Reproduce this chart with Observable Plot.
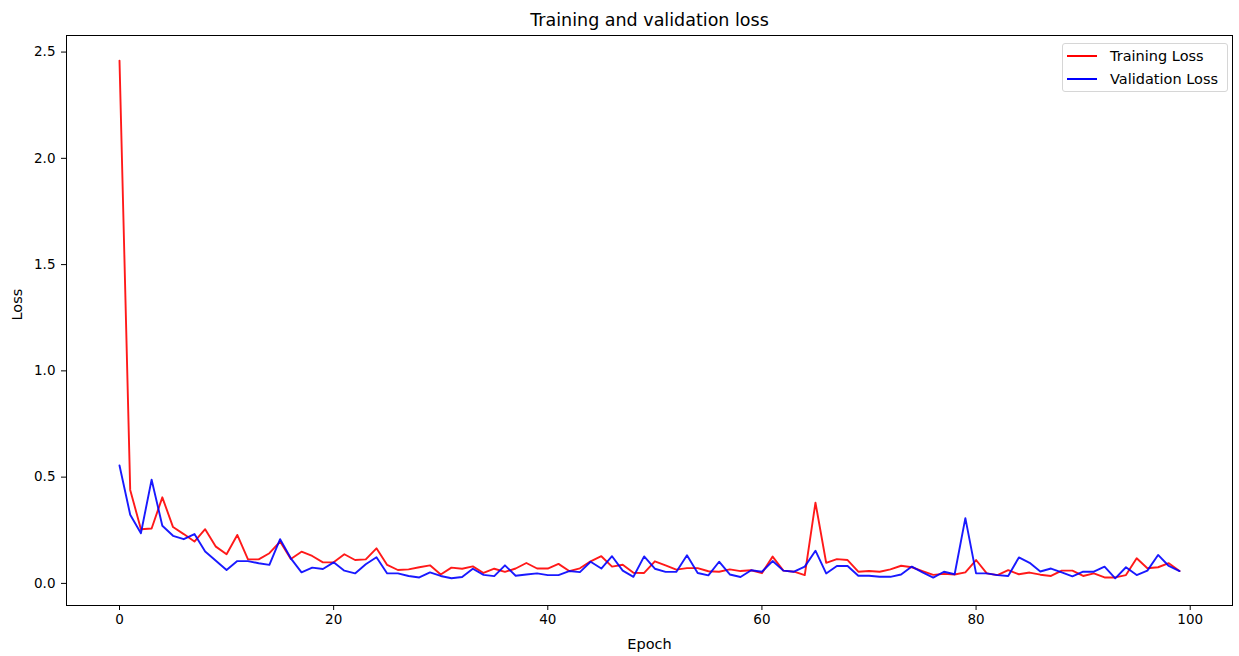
<!DOCTYPE html>
<html>
<head>
<meta charset="utf-8">
<script src="https://cdn.jsdelivr.net/npm/d3@7"></script>
<script src="https://cdn.jsdelivr.net/npm/@observablehq/plot@0.6"></script>
<style>
  body { margin: 0; background: #fff; font-family: "DejaVu Sans", sans-serif; }
  #wrap { position: relative; width: 1239px; height: 656px; }
  #legend { position: absolute; left: 1062px; top: 43px; width: 164px; height: 47px;
    border: 1px solid #d6d6d6; border-radius: 3px; background: rgba(255,255,255,0.8);
    font-family: "DejaVu Sans", sans-serif; font-size: 14.5px; color: #000; }
  .row { position: absolute; left: 4px; height: 20px; display: flex; align-items: center; }
  .sw { width: 30px; height: 2px; margin-right: 13px; }
</style>
</head>
<body>
<div id="wrap"><div id="chart"></div>
  <div id="legend">
    <div class="row" style="top:2px"><div class="sw" style="background:#ff0000"></div><span>Training Loss</span></div>
    <div class="row" style="top:25px"><div class="sw" style="background:#0000ff"></div><span>Validation Loss</span></div>
  </div>
</div>
<script>
const trainingLoss = [2.46,0.44,0.255,0.258,0.405,0.265,0.232,0.197,0.255,0.173,
  0.137,0.228,0.113,0.113,0.142,0.197,0.115,0.149,0.129,0.099,
  0.099,0.137,0.110,0.113,0.165,0.087,0.063,0.066,0.076,0.085,
  0.042,0.074,0.069,0.080,0.049,0.069,0.054,0.070,0.096,0.070,
  0.070,0.092,0.058,0.071,0.104,0.128,0.079,0.088,0.050,0.049,
  0.104,0.085,0.065,0.072,0.072,0.057,0.055,0.066,0.058,0.062,
  0.048,0.126,0.060,0.055,0.039,0.380,0.097,0.114,0.110,0.055,
  0.058,0.055,0.066,0.083,0.076,0.058,0.040,0.045,0.042,0.052,
  0.110,0.047,0.039,0.062,0.043,0.051,0.041,0.035,0.060,0.060,
  0.035,0.047,0.028,0.028,0.039,0.118,0.071,0.076,0.095,0.058];
const validationLoss = [0.555,0.323,0.236,0.488,0.271,0.224,0.208,0.232,0.150,0.107,
  0.063,0.105,0.105,0.095,0.087,0.208,0.118,0.052,0.074,0.068,
  0.099,0.060,0.047,0.090,0.123,0.047,0.047,0.035,0.028,0.052,
  0.035,0.024,0.030,0.069,0.040,0.034,0.085,0.036,0.042,0.047,
  0.039,0.039,0.058,0.053,0.102,0.070,0.128,0.060,0.031,0.127,
  0.069,0.054,0.054,0.132,0.049,0.038,0.102,0.042,0.030,0.062,
  0.055,0.105,0.060,0.055,0.079,0.154,0.047,0.082,0.082,0.036,
  0.036,0.031,0.031,0.042,0.079,0.052,0.027,0.055,0.043,0.307,
  0.047,0.047,0.039,0.035,0.122,0.097,0.056,0.070,0.052,0.033,
  0.055,0.055,0.079,0.024,0.076,0.039,0.060,0.134,0.082,0.058];
const epochs = d3.range(trainingLoss.length);
const xTicks = [0, 20, 40, 60, 80, 100];
const yTicks = [0, 0.5, 1.0, 1.5, 2.0, 2.5];
const titleText = "Training and validation loss";
const xLabel = "Epoch";
const yLabel = "Loss";

const train = epochs.map(e => ({epoch: e, loss: trainingLoss[e]}));
const val = epochs.map(e => ({epoch: e, loss: validationLoss[e]}));

const font = "DejaVu Sans, sans-serif";
const chart = Plot.plot({
  width: 1239, height: 656,
  marginLeft: 66, marginRight: 7, marginTop: 35, marginBottom: 51,
  style: {fontFamily: font, fontSize: "13.5px", color: "#000", background: "#fff", overflow: "visible"},
  x: {domain: [-4.95, 103.95]},
  y: {domain: [-0.104, 2.578]},
  marks: [
    Plot.lineY(train, {x: "epoch", y: "loss", stroke: "#ff0000", strokeWidth: 1.9, strokeOpacity: 0.9}),
    Plot.lineY(val, {x: "epoch", y: "loss", stroke: "#0000ff", strokeWidth: 1.9, strokeOpacity: 0.9}),
    Plot.frame({stroke: "#000", strokeWidth: 1}),
    Plot.axisX({ticks: xTicks, tickSize: 5, tickPadding: 4, label: null, tickFormat: d3.format("d"), fontSize: 13.5}),
    Plot.axisY({ticks: yTicks, tickSize: 5, tickPadding: 6, label: null, tickFormat: d3.format(".1f"), fontSize: 13.5}),
    Plot.text([titleText], {text: d => d, frameAnchor: "top", dy: -22, fontSize: 17.5, fill: "#000"}),
    Plot.text([xLabel], {text: d => d, frameAnchor: "bottom", dy: 43, fontSize: 14.5, fill: "#000"}),
    Plot.text([yLabel], {text: d => d, frameAnchor: "left", dx: -49, rotate: -90, fontSize: 14.5, fill: "#000"})
  ]
});
document.getElementById("chart").appendChild(chart);
</script>
</body>
</html>
